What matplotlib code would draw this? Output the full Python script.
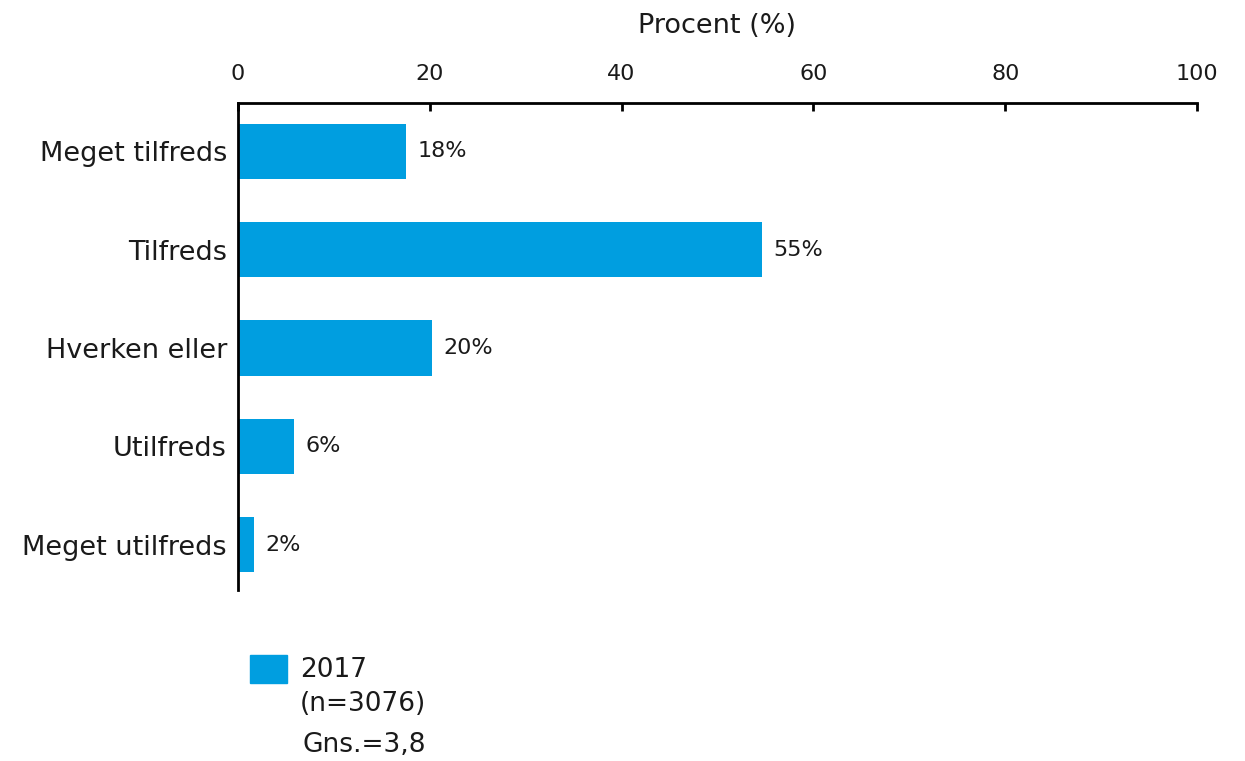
import matplotlib
matplotlib.use("Agg")
import matplotlib.pyplot as plt
from matplotlib.patches import Rectangle

categories = ["Meget tilfreds", "Tilfreds", "Hverken eller", "Utilfreds", "Meget utilfreds"]
values = [17.5, 54.6, 20.2, 5.8, 1.7]
value_labels = ["18%", "55%", "20%", "6%", "2%"]
xticks = [0, 20, 40, 60, 80, 100]
series_name = "2017"
n_text = "(n=3076)"
mean_text = "Gns.=3,8"
xlabel = "Procent (%)"

color = "#009EE0"
plt.rcParams['font.family'] = ['Verdana', 'DejaVu Sans']

fig = plt.figure(figsize=(12.45, 7.61), dpi=100)
ax = fig.add_axes([238/1245, 1-590/761, (1197-238)/1245, (590-103)/761])

ypos = list(range(len(categories)))
ax.barh(ypos, values, height=0.56, color=color, zorder=2)
for y, v, lab in zip(ypos, values, value_labels):
    ax.text(v + 1.2, y, lab, va='center', ha='left', fontsize=16, color='#1a1a1a')

ax.set_xlim(0, 100)
ax.set_ylim(4.46, -0.49)
ax.set_yticks(ypos)
ax.set_yticklabels(categories, fontsize=19.5, color='#1a1a1a')
ax.tick_params(axis='y', length=0, pad=8)
ax.xaxis.tick_top()
ax.xaxis.set_label_position('top')
ax.set_xticks(xticks)
ax.set_xticklabels([str(t) for t in xticks], fontsize=16, color='#1a1a1a')
ax.tick_params(axis='x', direction='in', length=6, width=2, pad=14)
ax.set_xlabel(xlabel, fontsize=19.5, labelpad=22, color='#1a1a1a')

for s in ['right', 'bottom']:
    ax.spines[s].set_visible(False)
for s in ['top', 'left']:
    ax.spines[s].set_linewidth(2)
    ax.spines[s].set_color('black')

fig.patches.append(Rectangle((250/1245, 1-683/761), 37/1245, 28/761,
                             transform=fig.transFigure, color=color))
fig.text(300/1245, 1-670/761, series_name, fontsize=19, va='center', ha='left', color='#1a1a1a')
fig.text(300/1245, 1-704/761, n_text, fontsize=19, va='center', ha='left', color='#1a1a1a')
fig.text(303/1245, 1-745/761, mean_text, fontsize=19, va='center', ha='left', color='#1a1a1a')

fig.savefig("out.png", dpi=100)
